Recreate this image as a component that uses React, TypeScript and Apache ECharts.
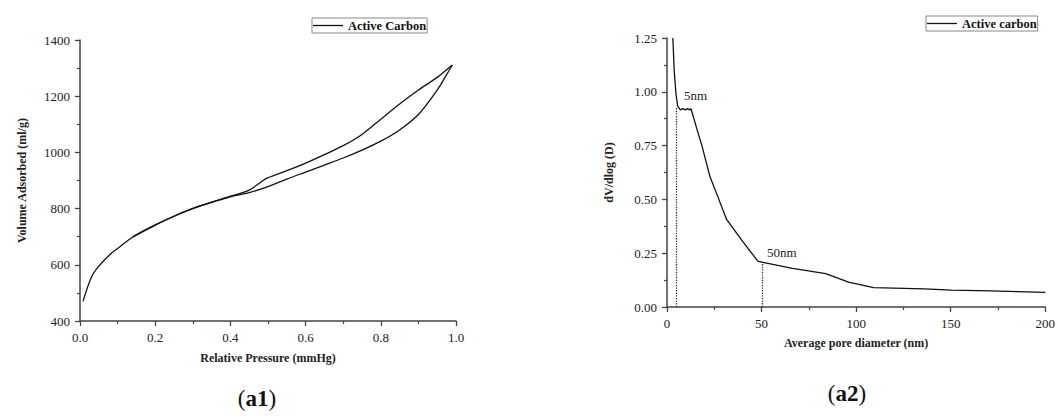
import React, { useEffect, useRef } from "react";
import * as echarts from "echarts";

// Left panel: N2 isotherm (adsorption & desorption branches)
const adsP = [0.008, 0.03, 0.05, 0.08, 0.1, 0.14, 0.2, 0.26, 0.31, 0.37, 0.4, 0.45, 0.5, 0.55, 0.6, 0.65, 0.7, 0.75, 0.8, 0.85, 0.9, 0.95, 0.97, 0.99];
const adsV = [470, 555, 595, 637, 658, 698, 741, 779, 804, 830, 842, 857, 878, 905, 930, 955, 980, 1008, 1040, 1080, 1135, 1222, 1265, 1311];
const desP = [0.99, 0.95, 0.9, 0.85, 0.8, 0.75, 0.7, 0.65, 0.6, 0.55, 0.5, 0.487, 0.45, 0.4, 0.31, 0.2, 0.14];
const desV = [1311, 1267, 1222, 1172, 1118, 1064, 1024, 992, 962, 935, 910, 900, 866, 844, 806, 742, 700];

// Right panel: pore size distribution
const poreD = [3.1, 3.8, 4.7, 5.6, 7.0, 8.4, 9.6, 10.8, 11.9, 12.7, 15.7, 18.6, 22.7, 26.2, 31.5, 40.2, 48, 50.7, 66.4, 83.9, 96, 109.3, 136, 150.4, 171, 200];
const poreV = [1.25, 1.1, 0.994, 0.935, 0.916, 0.922, 0.916, 0.922, 0.916, 0.921, 0.83, 0.745, 0.606, 0.528, 0.407, 0.303, 0.213, 0.207, 0.179, 0.155, 0.116, 0.09, 0.084, 0.078, 0.075, 0.068];

const markD = [5, 50.5];
const markV = [0.93, 0.205];
const markLabels = ["5nm", "50nm"];

const leftXTicks = { min: 0, max: 1, interval: 0.2 };
const leftYTicks = { min: 400, max: 1400, interval: 200 };
const rightXTicks = { min: 0, max: 200, interval: 50 };
const rightYTicks = { min: 0, max: 1.25, interval: 0.25 };

const FONT = "'Liberation Serif', 'Times New Roman', serif";

export default function App() {
  const ref = useRef<HTMLDivElement>(null);
  useEffect(() => {
    if (!ref.current) return;
    const chart = echarts.init(ref.current, undefined, { renderer: "svg" });
    const axisLine = { show: true, lineStyle: { color: "#444", width: 1.5 } };
    const axisTick = { show: true, length: 5, lineStyle: { color: "#444", width: 1.3 } };
    const minorTick = { show: true, splitNumber: 2, length: 3, lineStyle: { color: "#444", width: 1.2 } };
    const axisLabel = (fmt: (v: number) => string) => ({
      margin: 10,
      color: "#222",
      fontSize: 13,
      fontFamily: FONT,
      formatter: fmt,
    });
    const nameStyle = { fontFamily: FONT, fontWeight: "bold", fontSize: 12, color: "#222" };
    const legendBase = {
      orient: "horizontal",
      icon: "rect",
      itemWidth: 30,
      itemHeight: 1.3,
      itemGap: 4,
      padding: [1, 1, 1, 1],
      borderColor: "#888",
      borderWidth: 1,
      selectedMode: false,
      itemStyle: { color: "#111" },
      textStyle: { fontFamily: FONT, fontWeight: "bold", fontSize: 12.5, color: "#111", lineHeight: 13 },
    };
    const lineStyle = { color: "#111", width: 1.3 };
    chart.setOption({
      animation: false,
      backgroundColor: "#fff",
      grid: [
        { left: 80, top: 40, width: 376, height: 281 },
        { left: 667, top: 38, width: 381, height: 269 },
      ],
      legend: [
        { ...legendBase, data: ["Active Carbon"], left: 312, top: 18 },
        { ...legendBase, data: ["Active carbon"], left: 926, top: 16 },
      ],
      xAxis: [
        {
          type: "value", gridIndex: 0, ...leftXTicks,
          axisLine, axisTick, minorTick, splitLine: { show: false },
          axisLabel: axisLabel((v: number) => v.toFixed(1)),
          name: "Relative Pressure (mmHg)", nameLocation: "middle", nameGap: 31, nameTextStyle: nameStyle,
        },
        {
          type: "value", gridIndex: 1, ...rightXTicks,
          axisLine, axisTick, minorTick, splitLine: { show: false },
          axisLabel: axisLabel((v: number) => String(v)),
          name: "Average pore diameter (nm)", nameLocation: "middle", nameGap: 30, nameTextStyle: nameStyle,
        },
      ],
      yAxis: [
        {
          type: "value", gridIndex: 0, ...leftYTicks,
          axisLine, axisTick, minorTick, splitLine: { show: false },
          axisLabel: axisLabel((v: number) => String(v)),
          name: "Volume Adsorbed (ml/g)", nameLocation: "middle", nameGap: 52, nameTextStyle: nameStyle,
        },
        {
          type: "value", gridIndex: 1, ...rightYTicks,
          axisLine, axisTick, minorTick, splitLine: { show: false },
          axisLabel: axisLabel((v: number) => v.toFixed(2)),
          name: "dV/dlog (D)", nameLocation: "middle", nameGap: 52, nameTextStyle: nameStyle,
        },
      ],
      series: [
        {
          name: "Active Carbon", type: "line", xAxisIndex: 0, yAxisIndex: 0,
          data: adsP.map((p, i) => [p, adsV[i]]),
          symbol: "none", smooth: 0.3, lineStyle, itemStyle: { color: "#111" },
        },
        {
          name: "Active Carbon", type: "line", xAxisIndex: 0, yAxisIndex: 0,
          data: desP.map((p, i) => [p, desV[i]]),
          symbol: "none", smooth: 0.3, lineStyle, itemStyle: { color: "#111" },
        },
        {
          name: "Active carbon", type: "line", xAxisIndex: 1, yAxisIndex: 1,
          data: poreD.map((d, i) => [d, poreV[i]]),
          symbol: "none", smooth: false, lineStyle, itemStyle: { color: "#111" },
          markLine: {
            silent: true,
            symbol: ["none", "none"],
            label: { show: false },
            lineStyle: { type: "dotted", color: "#333", width: 1.3 },
            data: markD.map((d, i) => [{ coord: [d, 0] }, { coord: [d, markV[i]] }]),
          },
          markPoint: {
            silent: true,
            symbol: "circle",
            symbolSize: 1,
            itemStyle: { color: "rgba(0,0,0,0)" },
            data: markD.map((d, i) => ({
              coord: [d, markV[i]],
              name: markLabels[i],
              label: {
                show: true,
                position: "right",
                formatter: "{b}",
                fontFamily: FONT,
                fontSize: 13,
                color: "#222",
                offset: i === 0 ? [2, -11] : [-1, -10],
              },
            })),
          },
        },
      ],
      graphic: [
        {
          type: "text", x: 257, y: 398,
          style: {
            text: "{n|(}{b|a1}{n|)}", align: "center", verticalAlign: "middle",
            rich: {
              n: { fontFamily: FONT, fontSize: 23, fill: "#111" },
              b: { fontFamily: FONT, fontSize: 23, fontWeight: "bold", fill: "#111" },
            },
          },
        },
        {
          type: "text", x: 847, y: 393,
          style: {
            text: "{n|(}{b|a2}{n|)}", align: "center", verticalAlign: "middle",
            rich: {
              n: { fontFamily: FONT, fontSize: 23, fill: "#111" },
              b: { fontFamily: FONT, fontSize: 23, fontWeight: "bold", fill: "#111" },
            },
          },
        },
      ],
    });
    return () => chart.dispose();
  }, []);
  return (
    <div
      ref={ref}
      style={{ position: "absolute", left: 0, top: 0, width: 1058, height: 419, background: "#fff" }}
    />
  );
}
